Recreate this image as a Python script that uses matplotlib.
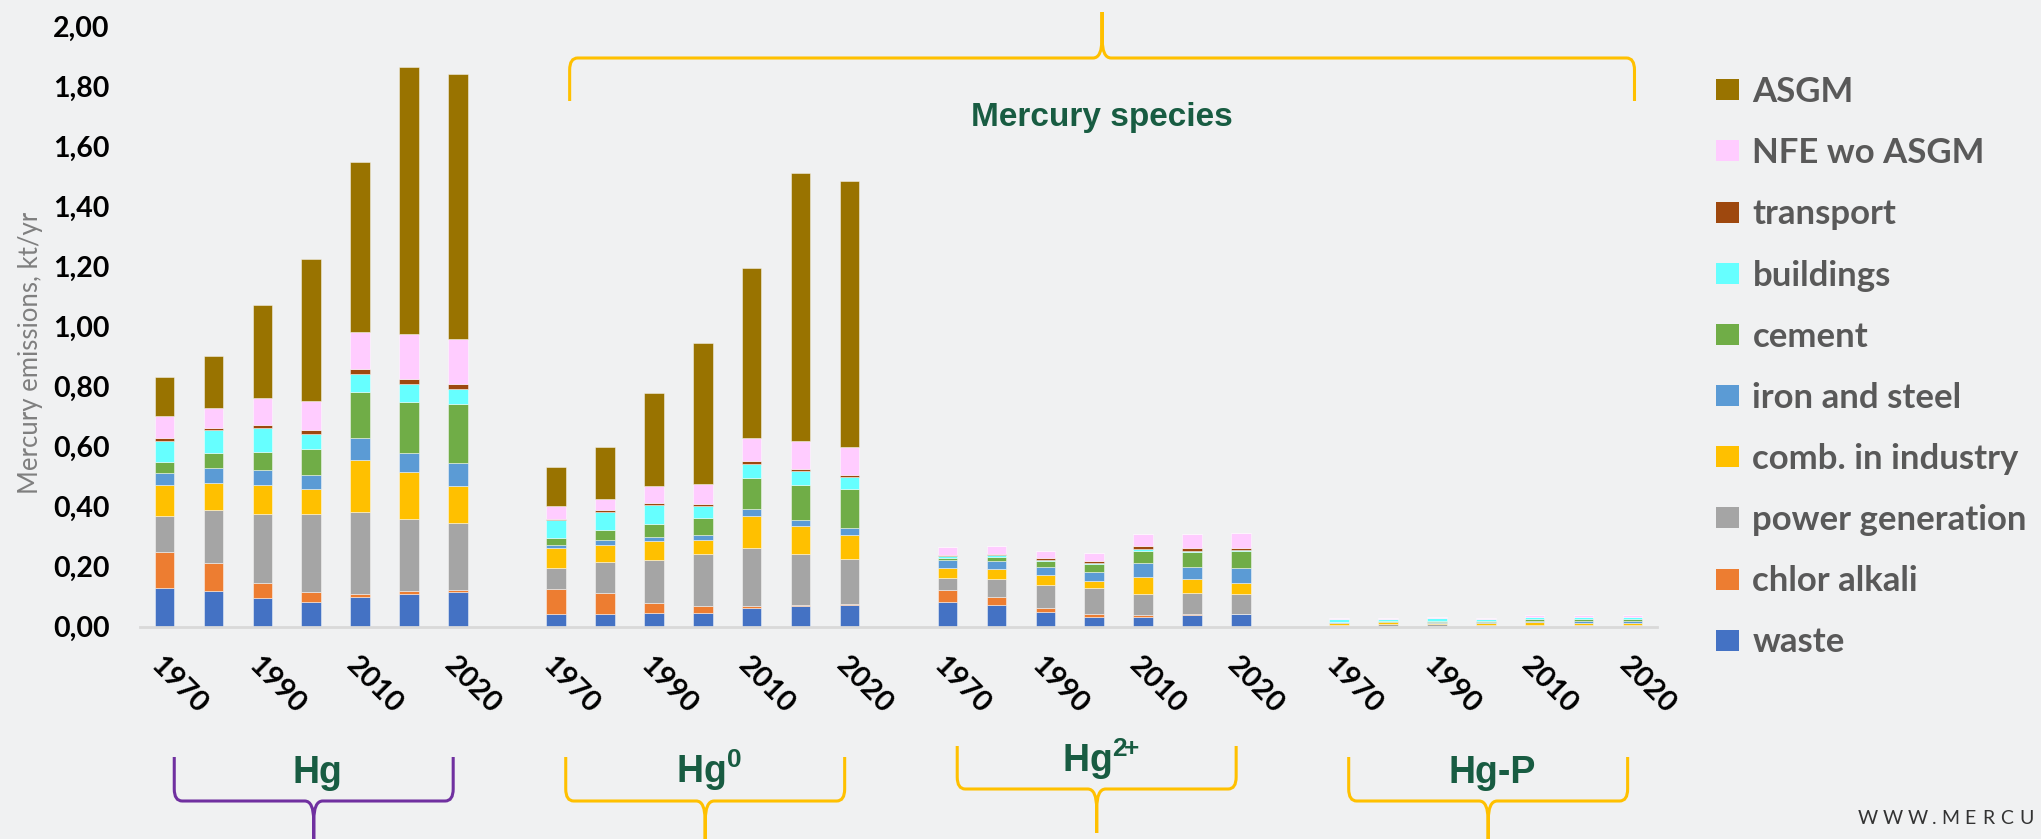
import numpy as np
import matplotlib
matplotlib.use('Agg')
import matplotlib.pyplot as plt
from matplotlib.patches import Patch, PathPatch
from matplotlib.path import Path
from matplotlib.transforms import Affine2D
from matplotlib import font_manager as fm


# Data (kt/yr), rows = sectors, columns = years

sectors = ['waste', 'chlor alkali', 'power generation', 'comb. in industry',
           'iron and steel', 'cement', 'buildings', 'transport',
           'NFE wo ASGM', 'ASGM']
colors = ['#4472c4', '#ed7d31', '#a5a5a5', '#ffc000', '#5b9bd5',
          '#70ad47', '#66ffff', '#9e480e', '#ffccff', '#997300']
years = ['1970', '1980', '1990', '2000', '2010', '2015', '2020']
shown_years = ['1970', '1990', '2010', '2020']

hg_total = np.array([
    [.130, .118, .097, .083, .100, .110, .117],
    [.119, .095, .050, .033, .009, .008, .005],
    [.121, .176, .229, .261, .274, .242, .224],
    [.103, .091, .097, .083, .173, .156, .124],
    [.038, .050, .048, .046, .074, .063, .077],
    [.038, .050, .062, .086, .152, .170, .195],
    [.071, .076, .079, .049, .060, .060, .049],
    [.008, .007, .012, .015, .016, .018, .018],
    [.074, .067, .087, .097, .123, .148, .149],
    [.129, .172, .311, .473, .567, .891, .885],
])
hg0 = np.array([
    [.041, .044, .047, .047, .062, .069, .072],
    [.084, .067, .033, .022, .007, .004, .005],
    [.070, .106, .144, .172, .195, .168, .150],
    [.066, .057, .061, .049, .106, .095, .078],
    [.011, .015, .014, .017, .024, .020, .025],
    [.024, .035, .042, .057, .103, .115, .130],
    [.060, .059, .064, .038, .046, .048, .038],
    [.003, .005, .006, .007, .008, .008, .009],
    [.045, .039, .059, .066, .078, .092, .092],
    [.130, .172, .310, .471, .567, .892, .887],
])
hg2 = np.array([
    [.084, .071, .048, .033, .034, .038, .041],
    [.037, .027, .014, .009, .004, .004, .002],
    [.043, .062, .078, .086, .072, .069, .065],
    [.033, .031, .031, .025, .056, .049, .039],
    [.024, .029, .029, .029, .046, .039, .049],
    [.009, .014, .018, .026, .042, .049, .055],
    [.007, .006, .006, .004, .006, .005, .005],
    [.003, .004, .006, .006, .008, .008, .007],
    [.026, .024, .024, .028, .040, .049, .049],
    [0, 0, 0, 0, 0, 0, 0],
])
hgp = np.array([
    [.001, .001, .001, .001, .001, .001, .001],
    [.000, .0005, .0005, .000, .000, .000, .000],
    [.006, .006, .006, .005, .004, .004, .004],
    [.006, .007, .006, .006, .010, .009, .008],
    [.002, .002, .003, .003, .005, .005, .006],
    [.001, .002, .002, .003, .005, .006, .006],
    [.009, .007, .009, .007, .008, .008, .007],
    [.0005, .001, .001, .001, .001, .001, .001],
    [.002, .003, .003, .003, .005, .006, .007],
    [0, 0, 0, 0, 0, 0, 0],
])
groups = [hg_total, hg0, hg2, hgp]
group_labels = ['Hg', r'Hg$^{0}$', r'Hg$^{2\!\!+}$', 'Hg-P']


# Fonts

names = {f.name for f in fm.fontManager.ttflist}
narrow = 'Liberation Sans Narrow' if 'Liberation Sans Narrow' in names else 'Liberation Sans'
plt.rcParams['font.family'] = ['Lato', 'DejaVu Sans']
plt.rcParams['mathtext.fontset'] = 'custom'
plt.rcParams['mathtext.rm'] = narrow + ':bold'
plt.rcParams['mathtext.it'] = narrow + ':bold'
plt.rcParams['mathtext.bf'] = narrow + ':bold'

W, H = 2041, 839
fig = plt.figure(figsize=(W / 100, H / 100), dpi=100, facecolor='#f0f1f2')
ax = fig.add_axes([140 / W, 1 - 626.7 / H, 1517 / W, 600 / H])
ax.set_facecolor('none')

step = len(years) + 1
for gi, arr in enumerate(groups):
    x = gi * step + np.arange(len(years))
    bottom = np.zeros(len(years))
    for si in range(len(sectors)):
        ax.bar(x, arr[si], 0.4, bottom=bottom, color=colors[si],
               edgecolor=(1, 1, 1, 0.45), linewidth=0.7)
        bottom += arr[si]

ax.set_xlim(-0.5, 4 * step - 1.5)
ax.set_ylim(0, 2.0)
yt = np.arange(0, 2.01, 0.2)
ax.set_yticks(yt)
ax.set_yticklabels([f'{v:.2f}'.replace('.', ',') for v in yt],
                   fontsize=20.5, fontweight='bold', color='black')

tick_pos, tick_lab = [], []
for gi in range(len(groups)):
    for yi, yr in enumerate(years):
        if yr in shown_years:
            tick_pos.append(gi * step + yi)
            tick_lab.append(yr)
ax.set_xticks(tick_pos)
ax.set_xticklabels(tick_lab, fontsize=21, fontweight='bold', color='black',
                   rotation=-45, ha='left', va='top', rotation_mode='anchor')
ax.tick_params(axis='x', length=0, pad=18)
ax.tick_params(axis='y', length=0, pad=22)
for s in ['top', 'right', 'left']:
    ax.spines[s].set_visible(False)
ax.spines['bottom'].set_color('#d9d9d9')
ax.spines['bottom'].set_linewidth(2)

ax.set_ylabel('Mercury emissions, kt/yr', fontsize=18.5, color='#7f7f7f')
ax.yaxis.set_label_coords(-0.064, 0.456)

# Legend
handles = [Patch(facecolor=c, edgecolor='none') for c in colors][::-1]
fig.legend(handles, sectors[::-1], loc='upper left', bbox_to_anchor=(1716 / W, 1 - 76 / H),
           frameon=False, labelcolor='#595959', prop={'weight': 'bold', 'size': 25},
           handlelength=0.65, handleheight=0.55, handletextpad=0.4, labelspacing=0.84,
           borderpad=0, borderaxespad=0)

# Braces (pixel coordinates, y downward)
pix = Affine2D().scale(1 / W, -1 / H).translate(0, 1) + fig.transFigure
ax_l, ax_w = 140, 1517
x0_lim, x1_lim = ax.get_xlim()


def cat_px(c):
    return ax_l + (c - x0_lim) / (x1_lim - x0_lim) * ax_w


def brace(xa, xb, y_arm, y_bar, y_tip, color, lw=2.2, rx=8, ry=12, tx=9, ty=20):
    xc = (xa + xb) / 2
    sg = 1 if y_bar > y_arm else -1
    verts, codes = [], []
    for xe, d in ((xa, 1), (xb, -1)):
        verts += [(xe, y_arm), (xe, y_bar - sg * ry), (xe, y_bar), (xe + d * rx, y_bar),
                  (xc - d * tx, y_bar), (xc, y_bar), (xc, y_bar + sg * ty), (xc, y_tip)]
        codes += [Path.MOVETO, Path.LINETO, Path.CURVE3, Path.CURVE3,
                  Path.LINETO, Path.CURVE3, Path.CURVE3, Path.LINETO]
    fig.add_artist(PathPatch(Path(verts, codes), facecolor='none', edgecolor=color,
                             linewidth=lw, transform=pix, capstyle='butt'))
    return xc


green = '#185c42'
brace_cols = ['#7030a0', '#ffc000', '#ffc000', '#ffc000']
arm_y = [757, 757, 746, 757]
bar_y = [801, 801, 789, 801]
tip_y = [845, 845, 833, 845]
base_y = [783, 783, 772, 783]
for gi in range(len(groups)):
    xa = cat_px(gi * step + 0.2)
    xb = cat_px(gi * step + len(years) - 1.1)
    xc = brace(xa, xb, arm_y[gi], bar_y[gi], tip_y[gi], brace_cols[gi])
    fig.text((xc + 4) / W, 1 - base_y[gi] / H, group_labels[gi], family=narrow,
             fontweight='bold', fontsize=27, color=green, ha='center', va='baseline')

xa = cat_px(step + 0.28)
xb = cat_px(4 * step - 2 + 0.04)
xc = brace(xa, xb, 101, 58, 12, '#ffc000')
fig.text(xc / W, 1 - 126 / H, 'Mercury species', family=narrow, fontweight='bold',
         fontsize=24, color=green, ha='center', va='baseline')

# Website text, cut off at the right edge
for ch, xp in zip('WWW.MERCU', [1868, 1893, 1918, 1934, 1950, 1970, 1988, 2007, 2027]):
    fig.text(xp / W, 1 - 818 / H, ch, fontsize=14, color='#333333', ha='center', va='center')

fig.savefig('out.png', dpi=100, facecolor=fig.get_facecolor())
